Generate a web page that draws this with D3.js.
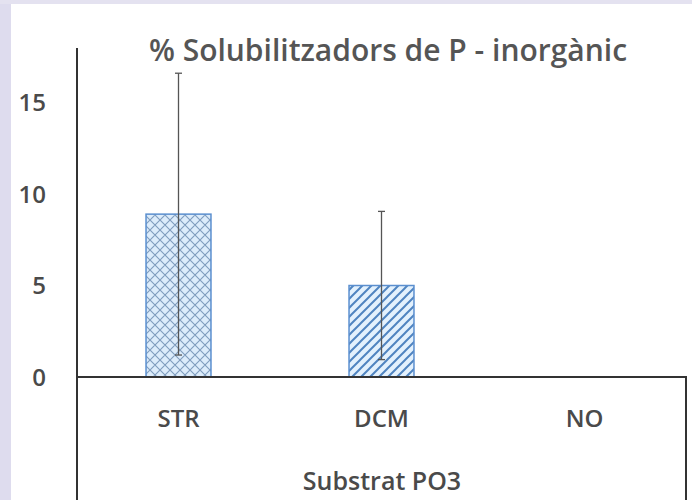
<!DOCTYPE html>
<html>
<head>
<meta charset="utf-8">
<script src="https://cdn.jsdelivr.net/npm/d3@7"></script>
<style>
  body { margin: 0; background: #ffffff; }
  text { font-family: "Open Sans", "Noto Sans", sans-serif; }
</style>
</head>
<body>
<script>
// chart data
var categories = ["STR", "DCM", "NO"];
var values = [8.9, 5.0, 0];
var errors = [7.7, 4.05, 0];
var patterns = ["cross", "diag", "none"];
var y_ticks = [0, 5, 10, 15];
var title = "% Solubilitzadors de P - inorgànic";
var x_title = "Substrat PO3";

var svg_width = 692;
var svg_height = 500;

var svg = d3.select("body")
  .append("svg")
  .attr("width", svg_width)
  .attr("height", svg_height);

// lavender frame at the left and top edge
svg.append("rect").attr("x", 0).attr("y", 0).attr("width", 11).attr("height", svg_height).attr("fill", "#dedcee");
svg.append("rect").attr("x", 0).attr("y", 0).attr("width", svg_width).attr("height", 4).attr("fill", "#e4e2f0");

// pattern fills
var defs = svg.append("defs");

var cross = defs.append("pattern")
  .attr("id", "cross")
  .attr("patternUnits", "userSpaceOnUse")
  .attr("width", 10).attr("height", 10);
cross.append("rect").attr("width", 10).attr("height", 10).attr("fill", "#dcecfb");
cross.append("path")
  .attr("d", "M0,0 L10,10 M10,0 L0,10 M-5,5 L5,15 M5,-5 L15,5 M-5,5 L5,-5 M5,15 L15,5")
  .attr("stroke", "#7f9cbd").attr("stroke-width", 1.1);

var diag = defs.append("pattern")
  .attr("id", "diag")
  .attr("patternUnits", "userSpaceOnUse")
  .attr("width", 9).attr("height", 9);
diag.append("rect").attr("width", 9).attr("height", 9).attr("fill", "#e3f1fd");
diag.append("path")
  .attr("d", "M0,9 L9,0 M-3,3 L3,-3 M6,12 L12,6")
  .attr("stroke", "#4f84c0").attr("stroke-width", 2);

var left = 77, right = 686, top_y = 48, base_y = 377;

var x_scale = d3.scaleBand()
  .domain(categories)
  .range([left, right])
  .paddingInner(0.68)
  .paddingOuter(0.34);

var y_scale = d3.scaleLinear()
  .domain([0, 15])
  .range([base_y, base_y - 274.5]);

// y axis: tick labels only, line drawn separately
var y_axis = d3.axisLeft(y_scale).tickValues(y_ticks).tickSize(0).tickPadding(0);
var gy = svg.append("g")
  .attr("transform", "translate(46,0)")
  .call(y_axis);
gy.select(".domain").remove();
gy.selectAll("text")
  .attr("font-size", 24)
  .attr("font-weight", 600)
  .attr("fill", "#4a4a4a")
  .attr("dy", "0.35em");

// bars
svg.selectAll(".bar")
  .data(categories)
  .enter()
  .filter(function(d, i) { return values[i] > 0; })
  .append("rect")
  .attr("class", "bar")
  .attr("x", function(d) { return x_scale(d); })
  .attr("width", x_scale.bandwidth())
  .attr("y", function(d) { return y_scale(values[categories.indexOf(d)]); })
  .attr("height", function(d) { return base_y - y_scale(values[categories.indexOf(d)]); })
  .attr("fill", function(d) { return "url(#" + patterns[categories.indexOf(d)] + ")"; })
  .attr("stroke", "#5b8fcf")
  .attr("stroke-width", 1.5);

// error bars
var err = svg.selectAll(".err")
  .data(categories.filter(function(d, i) { return errors[i] > 0; }))
  .enter()
  .append("g")
  .attr("class", "err")
  .attr("stroke", "#555")
  .attr("stroke-width", 1.3);

err.append("line")
  .attr("x1", function(d) { return x_scale(d) + x_scale.bandwidth() / 2; })
  .attr("x2", function(d) { return x_scale(d) + x_scale.bandwidth() / 2; })
  .attr("y1", function(d) { var i = categories.indexOf(d); return y_scale(values[i] + errors[i]); })
  .attr("y2", function(d) { var i = categories.indexOf(d); return y_scale(values[i] - errors[i]); });

[1, -1].forEach(function(sign) {
  err.append("line")
    .attr("x1", function(d) { return x_scale(d) + x_scale.bandwidth() / 2 - 3.5; })
    .attr("x2", function(d) { return x_scale(d) + x_scale.bandwidth() / 2 + 3.5; })
    .attr("y1", function(d) { var i = categories.indexOf(d); return y_scale(values[i] + sign * errors[i]); })
    .attr("y2", function(d) { var i = categories.indexOf(d); return y_scale(values[i] + sign * errors[i]); });
});

// axis lines and box below the baseline
svg.append("line")
  .attr("x1", left).attr("x2", left)
  .attr("y1", top_y).attr("y2", svg_height)
  .attr("stroke", "#333").attr("stroke-width", 2);

svg.append("path")
  .attr("d", "M" + left + "," + base_y + " H" + right + " V" + svg_height)
  .attr("fill", "none")
  .attr("stroke", "#333").attr("stroke-width", 2);

// category labels
var x_axis = d3.axisBottom(x_scale).tickSize(0).tickPadding(0);
var gx = svg.append("g")
  .attr("transform", "translate(0,419)")
  .call(x_axis);
gx.select(".domain").remove();
gx.selectAll("text")
  .attr("font-size", 24)
  .attr("font-weight", 600)
  .attr("fill", "#4a4a4a")
  .attr("dy", "0.35em")
  .attr("y", 0);

// x title
svg.append("text")
  .attr("x", 382)
  .attr("y", 490)
  .attr("text-anchor", "middle")
  .attr("font-size", 25)
  .attr("font-weight", 600)
  .attr("fill", "#4a4a4a")
  .text(x_title);

// chart title
svg.append("text")
  .attr("x", 388)
  .attr("y", 61)
  .attr("text-anchor", "middle")
  .attr("font-size", 30)
  .attr("font-weight", 600)
  .attr("fill", "#555")
  .text(title);
</script>
</body>
</html>
